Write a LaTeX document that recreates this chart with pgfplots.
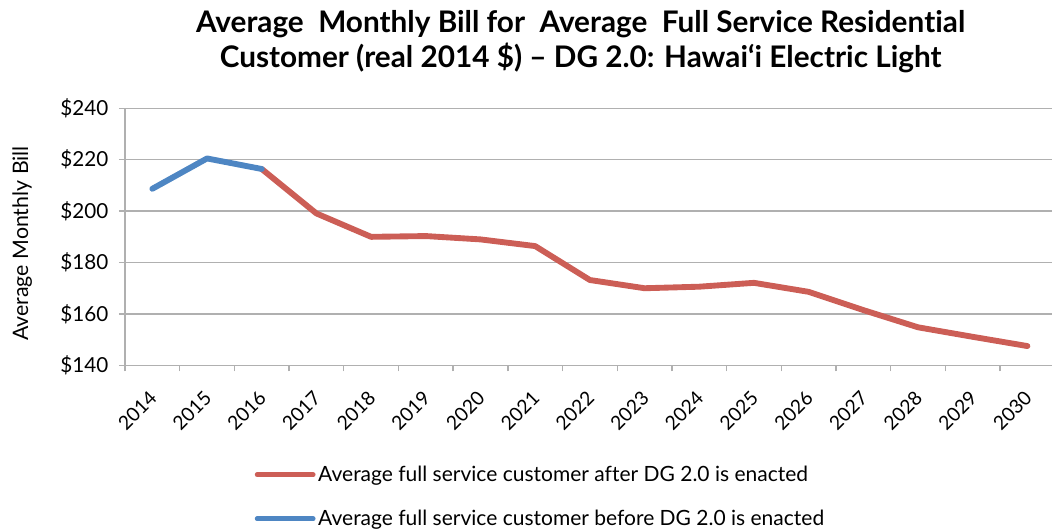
\documentclass[border=0pt]{standalone}
\usepackage{pgfplots}
\pgfplotsset{compat=1.18}
\usepackage{fontspec}
\setmainfont{Lato}[Ligatures=NoCommon]
\definecolor{billred}{RGB}{204,94,86}
\definecolor{billblue}{RGB}{78,134,195}
\definecolor{gridgray}{RGB}{176,176,176}

\begin{document}
\begin{tikzpicture}
\useasboundingbox (-93.75pt,-122.8pt) rectangle (695.25pt,274pt);
\begin{axis}[
  at={(0,0)}, anchor=south west,
  width=697.3pt, height=192.75pt, scale only axis,
  xmin=-0.5, xmax=16.5,
  ymin=140, ymax=240,
  xtick={-0.5,0.5,...,16.5},
  x tick label as interval,
  xticklabels={2014,2015,2016,2017,2018,2019,2020,2021,2022,2023,2024,2025,2026,2027,2028,2029,2030},
  ytick={140,160,...,240},
  yticklabels={\$140,\$160,\$180,\$200,\$220,\$240},
  axis x line*=bottom, axis y line*=left,
  axis line style={gridgray, line width=1pt, -},
  tick align=outside,
  major tick length=4.5pt,
  tick style={draw=gridgray, line width=1pt},
  ymajorgrids, xmajorgrids=false, grid style={gridgray, line width=1pt},
  xticklabel style={font=\fontsize{14.5}{16}\selectfont, rotate=45, anchor=north east, xshift=-8.5pt, yshift=-4pt},
  yticklabel style={font=\fontsize{15.5}{17}\selectfont, xshift=-4.5pt},
  ylabel={Average Monthly Bill},
  ylabel style={font=\fontsize{16}{18}\selectfont, at={(axis description cs:-0.1105,0.474)}, anchor=center, rotate=0},
  title={\textbf{Average\ \ Monthly Bill for\ \ Average\ \ Full Service Residen\kern0pt tial}\\\textbf{Customer (real 2014 \$) -- DG 2.0: Hawai‘i Electric Light}},
  title style={align=center, font=\fontsize{22.3}{26}\selectfont, at={(0.49,1)}, anchor=south, yshift=17pt},
  legend style={draw=none, fill=none, at={(0.135,-0.37)}, anchor=north west,
    font=\fontsize{15.75}{18}\selectfont, row sep=16pt},
  legend cell align=left,
  legend image code/.code={\draw[#1, line width=3.6pt, line cap=round] (0pt,0pt) -- (42pt,0pt);},
  clip=false,
]
\addplot[billred, line width=4.4pt, line join=round, line cap=round] coordinates {
  (2,216.4)(3,199.1)(4,190.0)(5,190.3)(6,189.0)(7,186.4)(8,173.2)(9,170.0)
  (10,170.6)(11,172.1)(12,168.6)(13,161.5)(14,154.8)(15,151.1)(16,147.5)
};
\addlegendentry{Average full service customer after DG 2.0 is enacted}
\addplot[billblue, line width=4.4pt, line join=round, line cap=round] coordinates {
  (0,208.7)(1,220.5)(2,216.4)
};
\addlegendentry{Average full service customer before DG 2.0 is enacted}
\end{axis}
\end{tikzpicture}
\end{document}
